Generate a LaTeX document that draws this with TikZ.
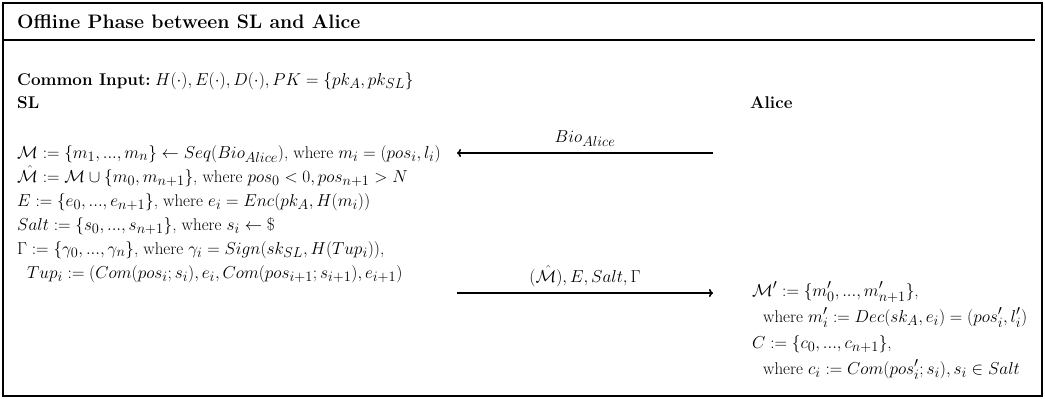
\documentclass[tikz,border=0pt]{standalone}
\usepackage{amsmath}
\usetikzlibrary{arrows.meta}
\DeclareMathSizes{17}{18}{13.5}{10}
\tikzset{
  txt/.style={anchor=base west, inner sep=0pt, font=\fontsize{17}{20}\selectfont},
  hdr/.style={anchor=base west, inner sep=0pt, font=\fontsize{17}{20}\selectfont\bfseries},
  ttl/.style={anchor=base west, inner sep=0pt, font=\fontsize{19.5}{23}\selectfont\bfseries},
  lbl/.style={anchor=base, inner sep=0pt, font=\fontsize{17}{20}\selectfont},
  msg/.style={line width=1.6pt, -{To[length=4pt,width=8pt]}},
  frame/.style={line width=2pt},
}
\begin{document}
\begin{tikzpicture}[x=1pt,y=-1pt]
\useasboundingbox (0,0) rectangle (1045,399);
\draw[frame] (3,3) rectangle (1042,396);
\draw[frame] (3,40) -- (1035,40);
\node[ttl] (title) at (17,28) {Offline Phase between SL and Alice};
\node[hdr] (common) at (17,85) {Common Input:};
\node[txt, xshift=4pt] (commonm) at (common.base east) {$H(\cdot), E(\cdot), D(\cdot), PK = \{pk_A, pk_{SL}\}$};
\node[hdr] (sl) at (17,108) {SL};
\node[hdr] (alice) at (750,108) {Alice};
\node[txt] (l1) at (17,158) {$\mathcal{M} := \{m_1, ..., m_n\} \leftarrow Seq(Bio_{Alice})$, where $m_i = (pos_i, l_i)$};
\node[txt] (l2) at (17,182) {$\hat{\mathcal{M}} := \mathcal{M} \cup \{m_0, m_{n+1}\}$, where $pos_0 < 0, pos_{n+1} > N$};
\node[txt] (l3) at (17,206) {$E := \{e_0, ..., e_{n+1}\}$, where $e_i = Enc(pk_A, H(m_i))$};
\node[txt] (l4) at (17,230) {$Salt := \{s_0, ..., s_{n+1}\}$, where $s_i \leftarrow \$$};
\node[txt] (l5) at (17,254) {$\Gamma := \{\gamma_0, ..., \gamma_n\}$, where $\gamma_i = Sign(sk_{SL}, H(Tup_i))$,};
\node[txt] (l6) at (27,278) {$Tup_i := (Com(pos_i; s_i), e_i, Com(pos_{i+1}; s_{i+1}), e_{i+1})$};
\node[txt] (r1) at (752,296) {$\mathcal{M}' := \{m'_0, ..., m'_{n+1}\}$,};
\node[txt] (r2) at (763,322) {where $m'_i := Dec(sk_A, e_i) = (pos'_i, l'_i)$};
\node[txt] (r3) at (752,348) {$C := \{c_0, ..., c_{n+1}\}$,};
\node[txt] (r4) at (763,374) {where $c_i := Com(pos'_i; s_i), s_i \in Salt$};
\coordinate (a1s) at (713,153);
\coordinate (a1e) at (457,153);
\coordinate (a2s) at (457,293);
\coordinate (a2e) at (713,293);
\draw[msg] (a1s) -- (a1e);
\draw[msg] (a2s) -- (a2e);
\node[lbl] (m1) at (585,142) {$Bio_{Alice}$};
\node[lbl] (m2) at (585,282) {$(\hat{\mathcal{M}}), E, Salt, \Gamma$};
\end{tikzpicture}
\end{document}
